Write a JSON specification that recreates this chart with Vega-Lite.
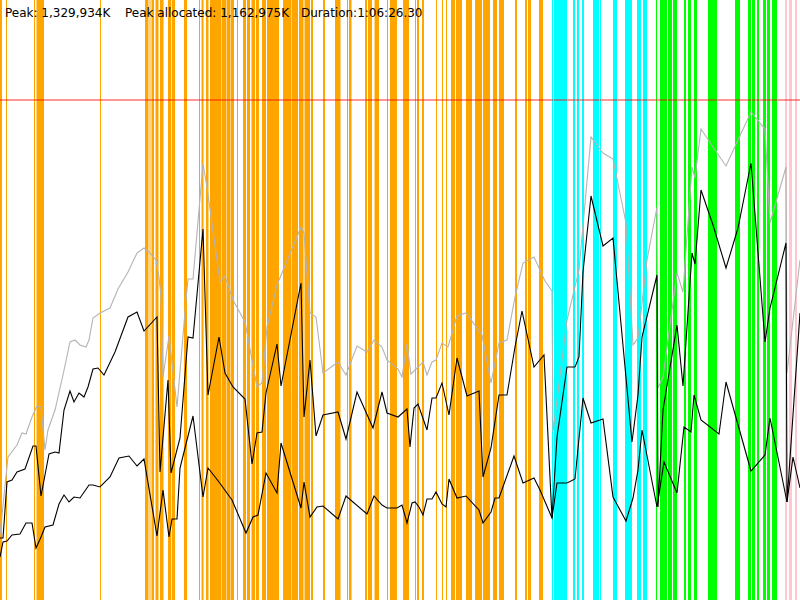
{
  "$schema": "https://vega.github.io/schema/vega-lite/v6.json",
  "autosize": {"type": "none"},
  "width": 800,
  "height": 600,
  "padding": 0,
  "background": "white",
  "config": {"view": {"stroke": null}},
  "datasets": {
    "bands": [
      {"start": 0, "end": 2, "kind": "orange"}, {"start": 6, "end": 7, "kind": "orange"},
      {"start": 34, "end": 35, "kind": "orange"}, {"start": 36.5, "end": 44, "kind": "orange"},
      {"start": 100, "end": 101, "kind": "orange"}, {"start": 145, "end": 148.5, "kind": "orange"},
      {"start": 149.5, "end": 150.5, "kind": "orange"}, {"start": 151.5, "end": 154, "kind": "orange"},
      {"start": 155.5, "end": 158.5, "kind": "orange"}, {"start": 160, "end": 163.5, "kind": "orange"},
      {"start": 168, "end": 171, "kind": "orange"}, {"start": 171.7, "end": 175, "kind": "orange"},
      {"start": 184, "end": 187, "kind": "orange"}, {"start": 199, "end": 200, "kind": "orange"},
      {"start": 201.5, "end": 203.5, "kind": "orange"}, {"start": 206, "end": 208.5, "kind": "orange"},
      {"start": 210, "end": 221.5, "kind": "orange"}, {"start": 222, "end": 226, "kind": "orange"},
      {"start": 226.5, "end": 230, "kind": "orange"}, {"start": 230.5, "end": 234, "kind": "orange"},
      {"start": 237, "end": 238, "kind": "orange"},
      {"start": 243, "end": 246, "kind": "orange"}, {"start": 247, "end": 250, "kind": "orange"},
      {"start": 251.5, "end": 255, "kind": "orange"}, {"start": 256, "end": 259, "kind": "orange"},
      {"start": 262, "end": 266, "kind": "orange"},
      {"start": 267, "end": 279, "kind": "orange"}, {"start": 283, "end": 291, "kind": "orange"},
      {"start": 291.5, "end": 298, "kind": "orange"}, {"start": 299, "end": 303.5, "kind": "orange"},
      {"start": 304.5, "end": 310, "kind": "orange"}, {"start": 311, "end": 313, "kind": "orange"},
      {"start": 323, "end": 325, "kind": "orange"}, {"start": 335, "end": 340.5, "kind": "orange"},
      {"start": 347, "end": 348, "kind": "orange"}, {"start": 349, "end": 351.5, "kind": "orange"},
      {"start": 365, "end": 367, "kind": "orange"}, {"start": 368, "end": 372, "kind": "orange"},
      {"start": 374.5, "end": 379, "kind": "orange"}, {"start": 387, "end": 388, "kind": "orange"},
      {"start": 390, "end": 397, "kind": "orange"}, {"start": 403, "end": 409, "kind": "orange"},
      {"start": 415, "end": 416, "kind": "orange"}, {"start": 417, "end": 419, "kind": "orange"},
      {"start": 422, "end": 424, "kind": "orange"}, {"start": 436, "end": 437, "kind": "orange"},
      {"start": 442, "end": 443, "kind": "orange"}, {"start": 446, "end": 447, "kind": "orange"},
      {"start": 451, "end": 455, "kind": "orange"}, {"start": 456, "end": 462, "kind": "orange"},
      {"start": 466, "end": 472, "kind": "orange"}, {"start": 475, "end": 482, "kind": "orange"},
      {"start": 483, "end": 490, "kind": "orange"}, {"start": 493, "end": 497, "kind": "orange"},
      {"start": 499, "end": 504, "kind": "orange"}, {"start": 515, "end": 517, "kind": "orange"},
      {"start": 525, "end": 527, "kind": "orange"}, {"start": 528, "end": 531, "kind": "orange"},
      {"start": 539, "end": 543, "kind": "orange"},
      {"start": 552, "end": 553, "kind": "cyan"}, {"start": 554, "end": 567, "kind": "cyan"},
      {"start": 573, "end": 575, "kind": "cyan"}, {"start": 577, "end": 579, "kind": "cyan"},
      {"start": 582, "end": 584, "kind": "cyan"}, {"start": 593, "end": 599, "kind": "cyan"},
      {"start": 600, "end": 601, "kind": "cyan"}, {"start": 613, "end": 617, "kind": "cyan"},
      {"start": 625, "end": 632, "kind": "cyan"}, {"start": 637, "end": 641, "kind": "cyan"},
      {"start": 643, "end": 647, "kind": "cyan"},
      {"start": 656, "end": 657, "kind": "green"}, {"start": 660, "end": 667, "kind": "green"},
      {"start": 668, "end": 672, "kind": "green"}, {"start": 673, "end": 677, "kind": "green"},
      {"start": 684, "end": 686, "kind": "green"}, {"start": 688, "end": 691, "kind": "green"},
      {"start": 694, "end": 697, "kind": "green"}, {"start": 708, "end": 717, "kind": "green"},
      {"start": 735, "end": 740, "kind": "green"}, {"start": 748, "end": 751, "kind": "green"},
      {"start": 752, "end": 755, "kind": "green"}, {"start": 757, "end": 759, "kind": "green"},
      {"start": 763, "end": 766, "kind": "green"}, {"start": 767, "end": 770, "kind": "green"},
      {"start": 772, "end": 777, "kind": "green"},
      {"start": 785, "end": 787, "kind": "pink"}, {"start": 789, "end": 792, "kind": "pink"},
      {"start": 795, "end": 797, "kind": "pink"}
    ],
    "memory": [
      {"t": 0, "mem": 65, "series": "total"}, {"t": 8, "mem": 143, "series": "total"},
      {"t": 17, "mem": 155, "series": "total"}, {"t": 22, "mem": 167, "series": "total"},
      {"t": 26, "mem": 166, "series": "total"}, {"t": 32, "mem": 183, "series": "total"},
      {"t": 37, "mem": 194, "series": "total"}, {"t": 41, "mem": 193, "series": "total"},
      {"t": 45, "mem": 150, "series": "total"}, {"t": 48, "mem": 170, "series": "total"},
      {"t": 55, "mem": 190, "series": "total"}, {"t": 63, "mem": 225, "series": "total"},
      {"t": 70, "mem": 258, "series": "total"}, {"t": 75, "mem": 260, "series": "total"},
      {"t": 80, "mem": 255, "series": "total"}, {"t": 86, "mem": 253, "series": "total"},
      {"t": 89, "mem": 260, "series": "total"}, {"t": 93, "mem": 282, "series": "total"},
      {"t": 100, "mem": 287, "series": "total"}, {"t": 110, "mem": 292, "series": "total"},
      {"t": 118, "mem": 311, "series": "total"}, {"t": 128, "mem": 328, "series": "total"},
      {"t": 137, "mem": 347, "series": "total"}, {"t": 144, "mem": 352, "series": "total"},
      {"t": 150, "mem": 347, "series": "total"}, {"t": 156, "mem": 340, "series": "total"},
      {"t": 159, "mem": 323, "series": "total"}, {"t": 161, "mem": 303, "series": "total"},
      {"t": 163, "mem": 223, "series": "total"}, {"t": 169, "mem": 264, "series": "total"},
      {"t": 177, "mem": 193, "series": "total"}, {"t": 186, "mem": 300, "series": "total"},
      {"t": 188, "mem": 321, "series": "total"}, {"t": 193, "mem": 321, "series": "total"},
      {"t": 203, "mem": 436, "series": "total"}, {"t": 207, "mem": 413, "series": "total"},
      {"t": 220, "mem": 318, "series": "total"}, {"t": 225, "mem": 324, "series": "total"},
      {"t": 233, "mem": 300, "series": "total"}, {"t": 245, "mem": 278, "series": "total"},
      {"t": 257, "mem": 213, "series": "total"}, {"t": 262, "mem": 217, "series": "total"},
      {"t": 267, "mem": 273, "series": "total"}, {"t": 277, "mem": 315, "series": "total"},
      {"t": 301, "mem": 373, "series": "total"}, {"t": 304, "mem": 367, "series": "total"},
      {"t": 310, "mem": 287, "series": "total"}, {"t": 316, "mem": 283, "series": "total"},
      {"t": 323, "mem": 227, "series": "total"}, {"t": 338, "mem": 238, "series": "total"},
      {"t": 346, "mem": 225, "series": "total"}, {"t": 357, "mem": 254, "series": "total"},
      {"t": 367, "mem": 248, "series": "total"}, {"t": 374, "mem": 260, "series": "total"},
      {"t": 382, "mem": 253, "series": "total"}, {"t": 387, "mem": 240, "series": "total"},
      {"t": 398, "mem": 231, "series": "total"}, {"t": 402, "mem": 223, "series": "total"},
      {"t": 407, "mem": 256, "series": "total"}, {"t": 411, "mem": 226, "series": "total"},
      {"t": 423, "mem": 238, "series": "total"}, {"t": 427, "mem": 225, "series": "total"},
      {"t": 432, "mem": 238, "series": "total"}, {"t": 436, "mem": 240, "series": "total"},
      {"t": 442, "mem": 257, "series": "total"}, {"t": 448, "mem": 253, "series": "total"},
      {"t": 457, "mem": 284, "series": "total"}, {"t": 466, "mem": 287, "series": "total"},
      {"t": 482, "mem": 265, "series": "total"}, {"t": 491, "mem": 217, "series": "total"},
      {"t": 499, "mem": 257, "series": "total"}, {"t": 507, "mem": 260, "series": "total"},
      {"t": 515, "mem": 303, "series": "total"}, {"t": 523, "mem": 337, "series": "total"},
      {"t": 534, "mem": 343, "series": "total"}, {"t": 545, "mem": 319, "series": "total"},
      {"t": 552, "mem": 309, "series": "total"}, {"t": 553, "mem": 168, "series": "total"},
      {"t": 567, "mem": 280, "series": "total"}, {"t": 579, "mem": 330, "series": "total"},
      {"t": 591, "mem": 463, "series": "total"}, {"t": 603, "mem": 447, "series": "total"},
      {"t": 613, "mem": 441, "series": "total"}, {"t": 626, "mem": 377, "series": "total"},
      {"t": 633, "mem": 255, "series": "total"}, {"t": 638, "mem": 262, "series": "total"},
      {"t": 647, "mem": 340, "series": "total"}, {"t": 657, "mem": 393, "series": "total"},
      {"t": 658, "mem": 212, "series": "total"}, {"t": 663, "mem": 223, "series": "total"},
      {"t": 677, "mem": 327, "series": "total"}, {"t": 683, "mem": 308, "series": "total"},
      {"t": 692, "mem": 433, "series": "total"}, {"t": 695, "mem": 422, "series": "total"},
      {"t": 701, "mem": 471, "series": "total"}, {"t": 713, "mem": 453, "series": "total"},
      {"t": 726, "mem": 434, "series": "total"}, {"t": 738, "mem": 460, "series": "total"},
      {"t": 751, "mem": 488, "series": "total"}, {"t": 765, "mem": 471, "series": "total"},
      {"t": 770, "mem": 377, "series": "total"}, {"t": 786, "mem": 433, "series": "total"},
      {"t": 787, "mem": 227, "series": "total"}, {"t": 800, "mem": 340, "series": "total"},

      {"t": 0, "mem": 62, "series": "allocated"}, {"t": 3, "mem": 62, "series": "allocated"},
      {"t": 7, "mem": 118, "series": "allocated"}, {"t": 12, "mem": 120, "series": "allocated"},
      {"t": 17, "mem": 128, "series": "allocated"}, {"t": 25, "mem": 131, "series": "allocated"},
      {"t": 33, "mem": 154, "series": "allocated"}, {"t": 36, "mem": 154, "series": "allocated"},
      {"t": 41, "mem": 104, "series": "allocated"}, {"t": 49, "mem": 146, "series": "allocated"},
      {"t": 55, "mem": 148, "series": "allocated"}, {"t": 59, "mem": 147, "series": "allocated"},
      {"t": 64, "mem": 190, "series": "allocated"}, {"t": 70, "mem": 209, "series": "allocated"},
      {"t": 74, "mem": 198, "series": "allocated"}, {"t": 79, "mem": 207, "series": "allocated"},
      {"t": 84, "mem": 203, "series": "allocated"}, {"t": 88, "mem": 213, "series": "allocated"},
      {"t": 93, "mem": 231, "series": "allocated"}, {"t": 98, "mem": 232, "series": "allocated"},
      {"t": 104, "mem": 225, "series": "allocated"}, {"t": 115, "mem": 248, "series": "allocated"},
      {"t": 128, "mem": 283, "series": "allocated"}, {"t": 137, "mem": 288, "series": "allocated"},
      {"t": 144, "mem": 269, "series": "allocated"}, {"t": 157, "mem": 283, "series": "allocated"},
      {"t": 160, "mem": 128, "series": "allocated"}, {"t": 168, "mem": 220, "series": "allocated"},
      {"t": 171, "mem": 127, "series": "allocated"}, {"t": 180, "mem": 162, "series": "allocated"},
      {"t": 188, "mem": 263, "series": "allocated"}, {"t": 193, "mem": 262, "series": "allocated"},
      {"t": 203, "mem": 371, "series": "allocated"}, {"t": 208, "mem": 205, "series": "allocated"},
      {"t": 219, "mem": 263, "series": "allocated"}, {"t": 225, "mem": 227, "series": "allocated"},
      {"t": 233, "mem": 213, "series": "allocated"}, {"t": 245, "mem": 201, "series": "allocated"},
      {"t": 252, "mem": 136, "series": "allocated"}, {"t": 257, "mem": 167, "series": "allocated"},
      {"t": 262, "mem": 168, "series": "allocated"}, {"t": 266, "mem": 207, "series": "allocated"},
      {"t": 277, "mem": 256, "series": "allocated"}, {"t": 281, "mem": 214, "series": "allocated"},
      {"t": 301, "mem": 317, "series": "allocated"}, {"t": 304, "mem": 183, "series": "allocated"},
      {"t": 310, "mem": 240, "series": "allocated"}, {"t": 316, "mem": 164, "series": "allocated"},
      {"t": 323, "mem": 185, "series": "allocated"}, {"t": 338, "mem": 188, "series": "allocated"},
      {"t": 346, "mem": 161, "series": "allocated"}, {"t": 357, "mem": 208, "series": "allocated"},
      {"t": 373, "mem": 172, "series": "allocated"}, {"t": 382, "mem": 208, "series": "allocated"},
      {"t": 387, "mem": 187, "series": "allocated"}, {"t": 398, "mem": 183, "series": "allocated"},
      {"t": 407, "mem": 191, "series": "allocated"}, {"t": 410, "mem": 153, "series": "allocated"},
      {"t": 414, "mem": 192, "series": "allocated"}, {"t": 418, "mem": 196, "series": "allocated"},
      {"t": 427, "mem": 170, "series": "allocated"}, {"t": 432, "mem": 202, "series": "allocated"},
      {"t": 436, "mem": 202, "series": "allocated"}, {"t": 442, "mem": 217, "series": "allocated"},
      {"t": 449, "mem": 185, "series": "allocated"}, {"t": 457, "mem": 242, "series": "allocated"},
      {"t": 467, "mem": 204, "series": "allocated"}, {"t": 479, "mem": 209, "series": "allocated"},
      {"t": 483, "mem": 123, "series": "allocated"}, {"t": 491, "mem": 152, "series": "allocated"},
      {"t": 499, "mem": 205, "series": "allocated"}, {"t": 507, "mem": 205, "series": "allocated"},
      {"t": 515, "mem": 253, "series": "allocated"}, {"t": 522, "mem": 289, "series": "allocated"},
      {"t": 534, "mem": 233, "series": "allocated"}, {"t": 544, "mem": 245, "series": "allocated"},
      {"t": 552, "mem": 82, "series": "allocated"}, {"t": 557, "mem": 163, "series": "allocated"},
      {"t": 567, "mem": 233, "series": "allocated"}, {"t": 575, "mem": 233, "series": "allocated"},
      {"t": 579, "mem": 243, "series": "allocated"}, {"t": 583, "mem": 328, "series": "allocated"},
      {"t": 591, "mem": 404, "series": "allocated"}, {"t": 603, "mem": 354, "series": "allocated"},
      {"t": 613, "mem": 362, "series": "allocated"}, {"t": 632, "mem": 158, "series": "allocated"},
      {"t": 638, "mem": 205, "series": "allocated"}, {"t": 642, "mem": 263, "series": "allocated"},
      {"t": 657, "mem": 325, "series": "allocated"}, {"t": 658, "mem": 93, "series": "allocated"},
      {"t": 663, "mem": 190, "series": "allocated"}, {"t": 677, "mem": 275, "series": "allocated"},
      {"t": 683, "mem": 214, "series": "allocated"}, {"t": 692, "mem": 347, "series": "allocated"},
      {"t": 695, "mem": 336, "series": "allocated"}, {"t": 701, "mem": 410, "series": "allocated"},
      {"t": 713, "mem": 375, "series": "allocated"}, {"t": 726, "mem": 332, "series": "allocated"},
      {"t": 738, "mem": 372, "series": "allocated"}, {"t": 751, "mem": 437, "series": "allocated"},
      {"t": 765, "mem": 258, "series": "allocated"}, {"t": 770, "mem": 292, "series": "allocated"},
      {"t": 786, "mem": 357, "series": "allocated"}, {"t": 787, "mem": 98, "series": "allocated"},
      {"t": 800, "mem": 287, "series": "allocated"},

      {"t": 0, "mem": 43, "series": "live"}, {"t": 3, "mem": 58, "series": "live"},
      {"t": 7, "mem": 59, "series": "live"}, {"t": 12, "mem": 65, "series": "live"},
      {"t": 20, "mem": 66, "series": "live"}, {"t": 26, "mem": 77, "series": "live"},
      {"t": 32, "mem": 77, "series": "live"}, {"t": 36, "mem": 52, "series": "live"},
      {"t": 41, "mem": 63, "series": "live"}, {"t": 45, "mem": 73, "series": "live"},
      {"t": 53, "mem": 75, "series": "live"}, {"t": 59, "mem": 96, "series": "live"},
      {"t": 64, "mem": 105, "series": "live"}, {"t": 69, "mem": 98, "series": "live"},
      {"t": 74, "mem": 103, "series": "live"}, {"t": 80, "mem": 102, "series": "live"},
      {"t": 89, "mem": 115, "series": "live"}, {"t": 93, "mem": 115, "series": "live"},
      {"t": 100, "mem": 113, "series": "live"}, {"t": 110, "mem": 123, "series": "live"},
      {"t": 119, "mem": 142, "series": "live"}, {"t": 129, "mem": 144, "series": "live"},
      {"t": 137, "mem": 134, "series": "live"}, {"t": 144, "mem": 141, "series": "live"},
      {"t": 157, "mem": 64, "series": "live"}, {"t": 163, "mem": 110, "series": "live"},
      {"t": 169, "mem": 63, "series": "live"}, {"t": 172, "mem": 81, "series": "live"},
      {"t": 177, "mem": 81, "series": "live"}, {"t": 180, "mem": 132, "series": "live"},
      {"t": 193, "mem": 184, "series": "live"}, {"t": 203, "mem": 103, "series": "live"},
      {"t": 208, "mem": 132, "series": "live"}, {"t": 219, "mem": 118, "series": "live"},
      {"t": 232, "mem": 100, "series": "live"}, {"t": 246, "mem": 67, "series": "live"},
      {"t": 253, "mem": 83, "series": "live"}, {"t": 258, "mem": 85, "series": "live"},
      {"t": 266, "mem": 127, "series": "live"}, {"t": 277, "mem": 107, "series": "live"},
      {"t": 281, "mem": 157, "series": "live"}, {"t": 301, "mem": 92, "series": "live"},
      {"t": 304, "mem": 118, "series": "live"}, {"t": 310, "mem": 83, "series": "live"},
      {"t": 317, "mem": 93, "series": "live"}, {"t": 323, "mem": 94, "series": "live"},
      {"t": 338, "mem": 81, "series": "live"}, {"t": 346, "mem": 104, "series": "live"},
      {"t": 367, "mem": 86, "series": "live"}, {"t": 374, "mem": 104, "series": "live"},
      {"t": 382, "mem": 95, "series": "live"}, {"t": 387, "mem": 92, "series": "live"},
      {"t": 397, "mem": 92, "series": "live"}, {"t": 402, "mem": 95, "series": "live"},
      {"t": 407, "mem": 77, "series": "live"}, {"t": 412, "mem": 97, "series": "live"},
      {"t": 415, "mem": 98, "series": "live"}, {"t": 419, "mem": 93, "series": "live"},
      {"t": 423, "mem": 85, "series": "live"}, {"t": 427, "mem": 101, "series": "live"},
      {"t": 432, "mem": 101, "series": "live"}, {"t": 436, "mem": 108, "series": "live"},
      {"t": 442, "mem": 96, "series": "live"}, {"t": 446, "mem": 93, "series": "live"},
      {"t": 449, "mem": 121, "series": "live"}, {"t": 457, "mem": 102, "series": "live"},
      {"t": 466, "mem": 104, "series": "live"}, {"t": 479, "mem": 90, "series": "live"},
      {"t": 483, "mem": 77, "series": "live"}, {"t": 491, "mem": 88, "series": "live"},
      {"t": 495, "mem": 102, "series": "live"}, {"t": 499, "mem": 102, "series": "live"},
      {"t": 514, "mem": 144, "series": "live"}, {"t": 523, "mem": 117, "series": "live"},
      {"t": 534, "mem": 122, "series": "live"}, {"t": 540, "mem": 110, "series": "live"},
      {"t": 552, "mem": 82, "series": "live"}, {"t": 557, "mem": 117, "series": "live"},
      {"t": 567, "mem": 117, "series": "live"}, {"t": 575, "mem": 121, "series": "live"},
      {"t": 583, "mem": 202, "series": "live"}, {"t": 591, "mem": 177, "series": "live"},
      {"t": 603, "mem": 181, "series": "live"}, {"t": 613, "mem": 103, "series": "live"},
      {"t": 626, "mem": 79, "series": "live"}, {"t": 633, "mem": 102, "series": "live"},
      {"t": 638, "mem": 130, "series": "live"}, {"t": 642, "mem": 170, "series": "live"},
      {"t": 657, "mem": 93, "series": "live"}, {"t": 664, "mem": 138, "series": "live"},
      {"t": 677, "mem": 107, "series": "live"}, {"t": 684, "mem": 173, "series": "live"},
      {"t": 691, "mem": 168, "series": "live"}, {"t": 694, "mem": 205, "series": "live"},
      {"t": 701, "mem": 180, "series": "live"}, {"t": 719, "mem": 166, "series": "live"},
      {"t": 726, "mem": 218, "series": "live"}, {"t": 751, "mem": 129, "series": "live"},
      {"t": 765, "mem": 145, "series": "live"}, {"t": 770, "mem": 182, "series": "live"},
      {"t": 787, "mem": 98, "series": "live"}, {"t": 793, "mem": 143, "series": "live"},
      {"t": 800, "mem": 112, "series": "live"}
    ],
    "summary": [
      {"t": 5, "mem": 583, "label": "Peak: 1,329,934K"},
      {"t": 125, "mem": 583, "label": "Peak allocated: 1,162,975K"},
      {"t": 301, "mem": 583, "label": "Duration:1:06:26.30"}
    ],
    "peak": [{"mem": 500}]
  },
  "layer": [
    {
      "data": {"name": "bands"},
      "mark": {"type": "rect", "stroke": null},
      "encoding": {
        "x": {"field": "start", "type": "quantitative", "scale": {"domain": [0, 800], "nice": false, "zero": false}, "axis": null},
        "x2": {"field": "end"},
        "color": {
          "field": "kind",
          "type": "nominal",
          "scale": {"domain": ["orange", "cyan", "green", "pink"], "range": ["#ffa500", "#00ffff", "#00ff00", "#ffc8d0"]},
          "legend": null
        }
      }
    },
    {
      "data": {"name": "memory"},
      "mark": {"type": "line", "strokeWidth": 1.1, "interpolate": "linear", "clip": true},
      "encoding": {
        "x": {"field": "t", "type": "quantitative", "scale": {"domain": [0, 800], "nice": false, "zero": false}, "axis": null},
        "y": {"field": "mem", "type": "quantitative", "scale": {"domain": [0, 600], "nice": false}, "axis": null},
        "stroke": {
          "field": "series",
          "type": "nominal",
          "scale": {"domain": ["total", "allocated", "live"], "range": ["#b4b4b4", "#000000", "#000000"]},
          "legend": null
        }
      }
    },
    {
      "data": {"name": "peak"},
      "mark": {"type": "rule", "color": "#ff0000", "strokeWidth": 1.5, "opacity": 0.55},
      "encoding": {
        "y": {"field": "mem", "type": "quantitative", "scale": {"domain": [0, 600], "nice": false}, "axis": null}
      }
    },
    {
      "data": {"name": "summary"},
      "mark": {"type": "text", "align": "left", "baseline": "alphabetic", "font": "DejaVu Sans", "fontSize": 12, "color": "#000000"},
      "encoding": {
        "x": {"field": "t", "type": "quantitative", "scale": {"domain": [0, 800], "nice": false, "zero": false}, "axis": null},
        "y": {"field": "mem", "type": "quantitative", "scale": {"domain": [0, 600], "nice": false}, "axis": null},
        "text": {"field": "label"}
      }
    }
  ],
  "resolve": {"scale": {"color": "independent"}}
}
